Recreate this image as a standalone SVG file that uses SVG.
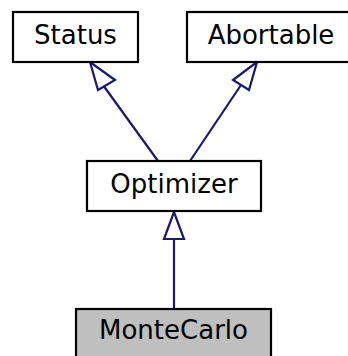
<svg xmlns="http://www.w3.org/2000/svg" width="348" height="356" viewBox="0 0 348 356">
<defs>
<style>
.box{fill:#ffffff;stroke:#000000;stroke-width:2.2}
.cur{fill:#bfbfbf;stroke:#000000;stroke-width:2.2}
.lbl{font-family:"DejaVu Sans",sans-serif;font-size:26px;fill:#000000;text-anchor:middle}
.edge{fill:none;stroke:#191970;stroke-width:2.2}
.head{fill:#ffffff;stroke:#191970;stroke-width:2.2}
</style>
</defs>
<rect width="348" height="356" fill="#ffffff"/>
<g id="connectors">
<line class="edge" x1="158" y1="161" x2="103" y2="85"/>
<polygon class="head" points="90,62 98,90 115,80"/>
<line class="edge" x1="190" y1="161" x2="241" y2="85"/>
<polygon class="head" points="257,62 233,80 249,90"/>
<line class="edge" x1="174" y1="309" x2="174" y2="239"/>
<polygon class="head" points="174,212 164,239 184,239"/>
</g>
<g id="node-status">
<rect class="box" x="13" y="12" width="125" height="50"/>
<text class="lbl" x="75.5" y="44">Status</text>
</g>
<g id="node-abortable">
<rect class="box" x="187" y="12" width="168" height="50"/>
<text class="lbl" x="271" y="44">Abortable</text>
</g>
<g id="node-optimizer">
<rect class="box" x="87" y="161" width="174" height="50"/>
<text class="lbl" x="174" y="193">Optimizer</text>
</g>
<g id="node-montecarlo">
<rect class="cur" x="76" y="309" width="195" height="55"/>
<text class="lbl" x="173.5" y="339">MonteCarlo</text>
</g>
</svg>
